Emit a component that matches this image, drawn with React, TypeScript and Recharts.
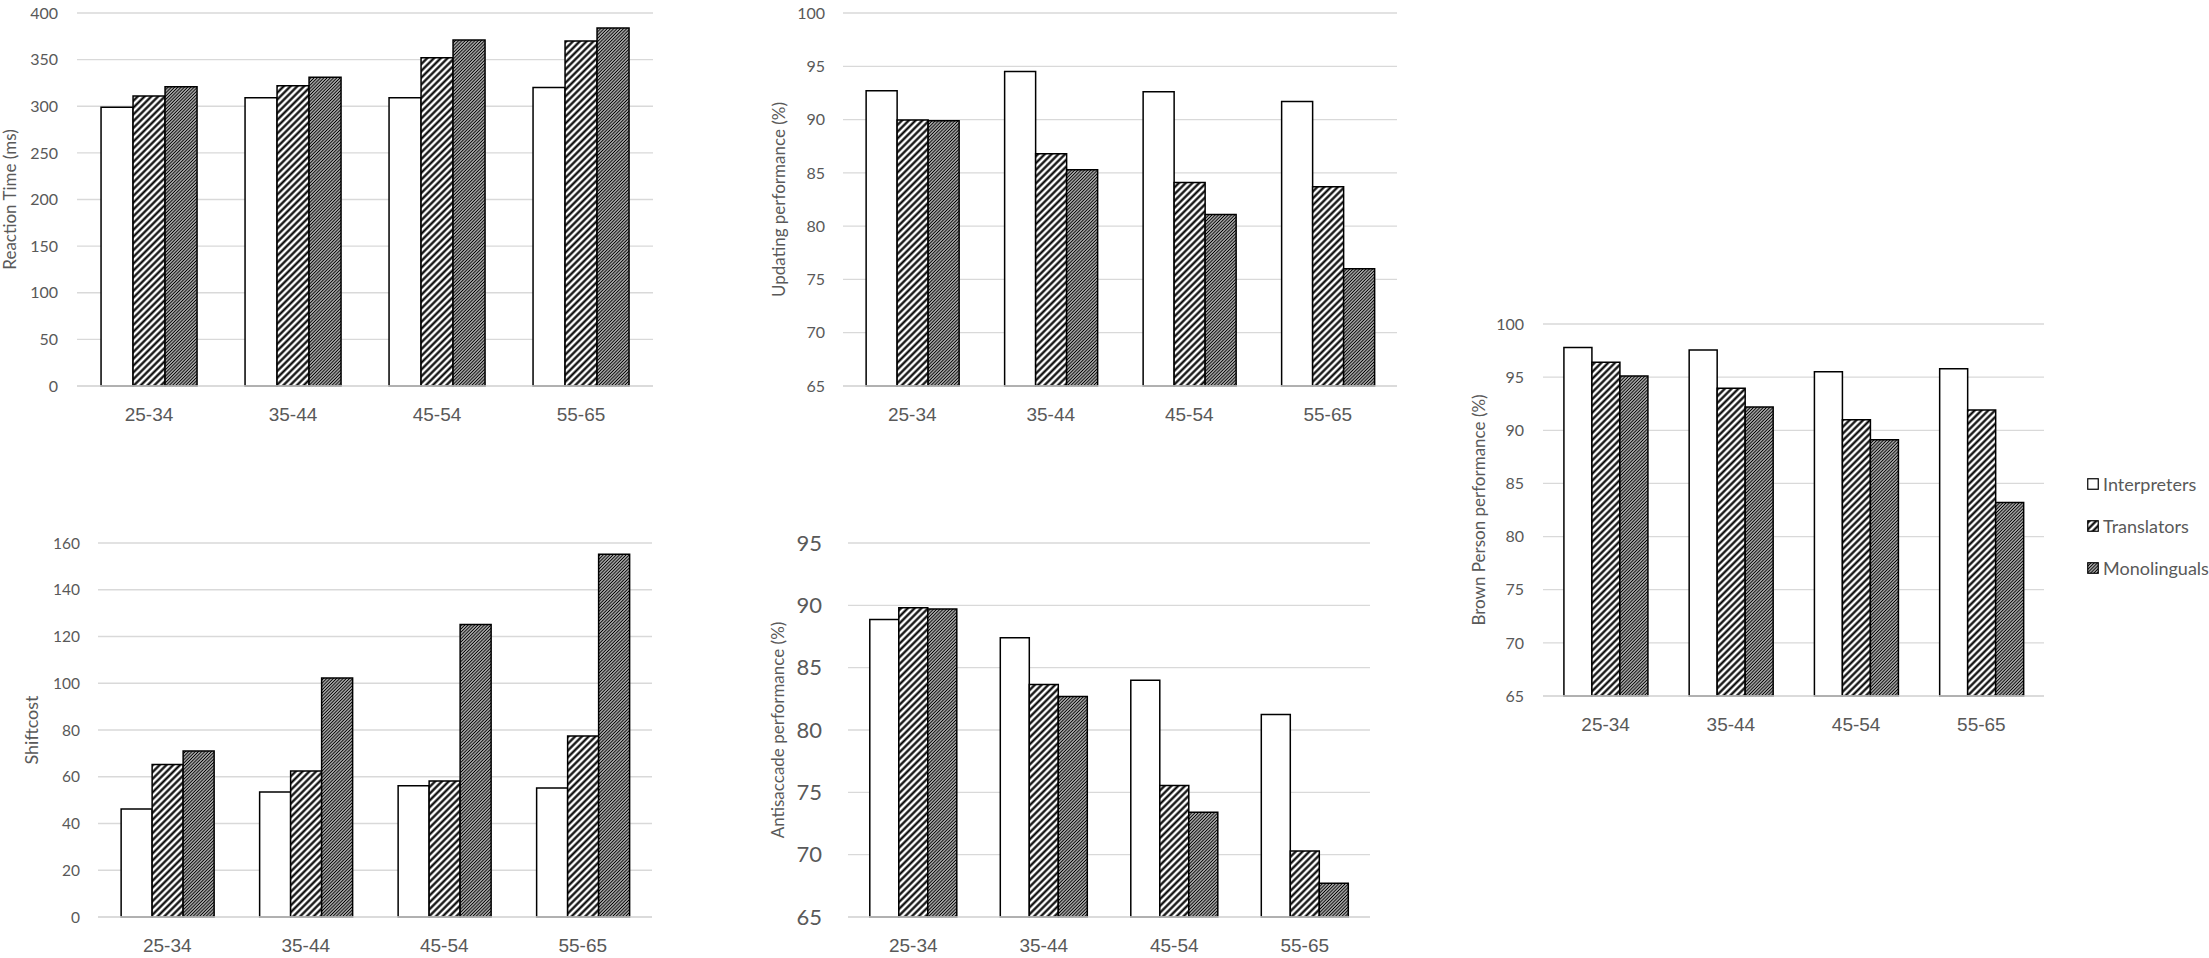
import { BarChart, Bar, XAxis, YAxis, CartesianGrid, Legend } from 'recharts';

const AGE_GROUPS = ['25-34', '35-44', '45-54', '55-65'];
const SERIES_NAMES = ['Interpreters', 'Translators', 'Monolinguals'];

const reactionInterpreters = [299, 309, 309, 320];
const reactionTranslators = [311, 322, 352, 370];
const reactionMonolinguals = [321, 331, 371, 384];
const reactionTicks = [0, 50, 100, 150, 200, 250, 300, 350, 400];

const updatingInterpreters = [92.7, 94.5, 92.6, 91.7];
const updatingTranslators = [89.95, 86.8, 84.1, 83.7];
const updatingMonolinguals = [89.9, 85.3, 81.1, 76.0];
const updatingTicks = [65, 70, 75, 80, 85, 90, 95, 100];

const shiftInterpreters = [46.2, 53.5, 56.2, 55.2];
const shiftTranslators = [65.2, 62.5, 58.2, 77.4];
const shiftMonolinguals = [71.0, 102.2, 125.1, 155.2];
const shiftTicks = [0, 20, 40, 60, 80, 100, 120, 140, 160];

const antiInterpreters = [88.86, 87.4, 84.0, 81.25];
const antiTranslators = [89.8, 83.64, 75.55, 70.3];
const antiMonolinguals = [89.7, 82.68, 73.4, 67.7];
const antiTicks = [65, 70, 75, 80, 85, 90, 95];

const brownInterpreters = [97.8, 97.55, 95.5, 95.8];
const brownTranslators = [96.4, 93.95, 91.0, 91.9];
const brownMonolinguals = [95.1, 92.2, 89.1, 83.2];
const brownTicks = [65, 70, 75, 80, 85, 90, 95, 100];

const GREY = '#595959';
const GRID = '#d9d9d9';

const rows = (a: number[], b: number[], c: number[]) =>
  AGE_GROUPS.map((group, i) => ({ group, interpreters: a[i], translators: b[i], monolinguals: c[i] }));

const patterns = (id: string) => (
  <defs>
    <pattern id={`${id}-hatch`} patternUnits="userSpaceOnUse" width={4.8} height={4.8} patternTransform="rotate(45)">
      <rect width={4.8} height={4.8} fill="#fff" />
      <line x1={2.4} y1={0} x2={2.4} y2={4.8} stroke="#000" strokeWidth={2.2} />
    </pattern>
    <pattern id={`${id}-dense`} patternUnits="userSpaceOnUse" width={2.3} height={2.3} patternTransform="rotate(45)">
      <rect width={2.3} height={2.3} fill="#fff" />
      <line x1={1.15} y1={0} x2={1.15} y2={2.3} stroke="#000" strokeWidth={1.35} />
    </pattern>
  </defs>
);

// legend keeps the series order instead of the library's alphabetical sort
const renderLegend = ({ payload }: any) => {
  const items = [...(payload || [])].sort(
    (a: any, b: any) => SERIES_NAMES.indexOf(a.value) - SERIES_NAMES.indexOf(b.value),
  );
  return (
    <div style={{ fontFamily: 'Lato', fontSize: 18, color: GREY }}>
      {items.map((p: any) => (
        <div key={p.value} style={{ display: 'flex', alignItems: 'center', height: 42 }}>
          <svg width={12} height={12} style={{ marginRight: 4 }}>
            <rect x={0.75} y={0.75} width={10.5} height={10.5} fill={p.color} stroke="#000" strokeWidth={1.2} />
          </svg>
          <span>{p.value}</span>
        </div>
      ))}
    </div>
  );
};

function Panel(props: any) {
  const {
    id, left, top, width, height, plotLeft, plotRight, plotTop, plotBottom,
    data, domain, ticks, tickFont, tickGap, title, titleX, titleSize, legend,
  } = props;
  return (
    <div style={{ position: 'absolute', left, top, width, height }}>
      <BarChart
        width={width}
        height={height}
        data={data}
        barGap={0}
        barCategoryGap="16.7%"
        margin={{ top: plotTop - top, right: left + width - plotRight, bottom: 0, left: 0 }}
      >
        {patterns(id)}
        <CartesianGrid vertical={false} stroke={GRID} strokeWidth={1.3} />
        <XAxis
          dataKey="group"
          height={top + height - plotBottom}
          axisLine={{ stroke: GRID, strokeWidth: 1.3 }}
          tickLine={false}
          tickSize={0}
          tickMargin={22}
          interval={0}
          tick={{ fill: GREY, fontSize: 19, fontFamily: 'Liberation Sans' }}
        />
        <YAxis
          width={plotLeft - left}
          domain={domain}
          ticks={ticks}
          interval={0}
          axisLine={false}
          tickLine={false}
          tickSize={0}
          tickMargin={tickGap}
          tick={{ fill: GREY, fontSize: tickFont, fontFamily: 'Lato' }}
          label={{
            value: title,
            angle: -90,
            position: 'insideLeft',
            offset: titleX - left,
            style: { textAnchor: 'middle', fill: GREY, fontSize: titleSize, fontFamily: 'Lato' },
          }}
        />
        <Bar dataKey="interpreters" name="Interpreters" fill="#fff" stroke="#000" strokeWidth={1.5} isAnimationActive={false} />
        <Bar dataKey="translators" name="Translators" fill={`url(#${id}-hatch)`} stroke="#000" strokeWidth={1.5} isAnimationActive={false} />
        <Bar dataKey="monolinguals" name="Monolinguals" fill={`url(#${id}-dense)`} stroke="#000" strokeWidth={1.5} isAnimationActive={false} />
        {legend && (
          <Legend
            layout="horizontal"
            verticalAlign="middle"
            align="center"
            content={renderLegend}
            wrapperStyle={{ left: legend.x - left, top: legend.y - top, width: 122 }}
          />
        )}
      </BarChart>
    </div>
  );
}

export default function App() {
  return (
    <div style={{ position: 'absolute', left: 0, top: 0, width: 2209, height: 958, background: '#fff' }}>
      <Panel
        id="rt" left={0} top={0} width={680} height={440}
        plotLeft={77} plotRight={653} plotTop={13} plotBottom={386}
        data={rows(reactionInterpreters, reactionTranslators, reactionMonolinguals)}
        domain={[0, 400]} ticks={reactionTicks} tickFont={16} tickGap={19}
        title="Reaction Time (ms)" titleX={9.5} titleSize={17}
      />
      <Panel
        id="up" left={700} top={0} width={720} height={440}
        plotLeft={843} plotRight={1397} plotTop={13} plotBottom={386}
        data={rows(updatingInterpreters, updatingTranslators, updatingMonolinguals)}
        domain={[65, 100]} ticks={updatingTicks} tickFont={16} tickGap={18}
        title="Updating performance (%)" titleX={778.5} titleSize={17}
      />
      <Panel
        id="sc" left={0} top={480} width={680} height={478}
        plotLeft={98} plotRight={652} plotTop={543} plotBottom={917}
        data={rows(shiftInterpreters, shiftTranslators, shiftMonolinguals)}
        domain={[0, 160]} ticks={shiftTicks} tickFont={15.5} tickGap={18}
        title="Shiftcost" titleX={32} titleSize={18}
      />
      <Panel
        id="as" left={700} top={480} width={720} height={478}
        plotLeft={848} plotRight={1370} plotTop={543} plotBottom={917}
        data={rows(antiInterpreters, antiTranslators, antiMonolinguals)}
        domain={[65, 95]} ticks={antiTicks} tickFont={22} tickGap={26}
        title="Antisaccade performance (%)" titleX={778} titleSize={17}
      />
      <Panel
        id="bp" left={1430} top={300} width={779} height={460}
        plotLeft={1543} plotRight={2044} plotTop={324} plotBottom={696}
        data={rows(brownInterpreters, brownTranslators, brownMonolinguals)}
        domain={[65, 100]} ticks={brownTicks} tickFont={16} tickGap={19}
        title="Brown Person performance (%)" titleX={1479} titleSize={17}
        legend={{ x: 2087, y: 463 }}
      />
    </div>
  );
}
